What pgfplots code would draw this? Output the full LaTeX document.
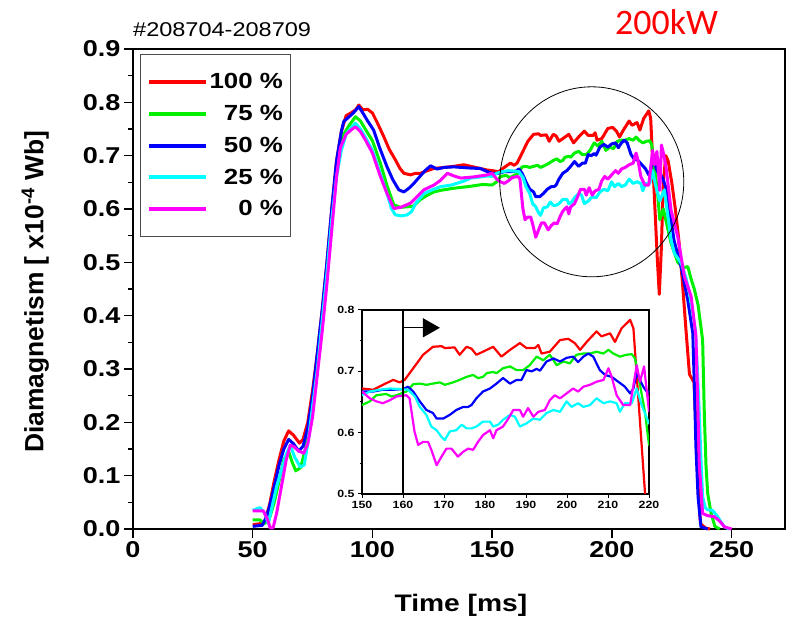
\documentclass[border=0pt]{standalone}
\usepackage{fontspec}
\setmainfont{Liberation Sans}[FakeStretch=1.18]
\newfontfamily\plainsans{Liberation Sans}
\newfontfamily\calfont{Carlito}
\usepackage{pgfplots}
\pgfplotsset{compat=1.18}
\usepackage{pgfplotstable}
\usetikzlibrary{arrows.meta}
\definecolor{cRed}{RGB}{255,0,0}
\definecolor{cGreen}{RGB}{0,240,0}
\definecolor{cBlue}{RGB}{0,0,255}
\definecolor{cCyan}{RGB}{0,255,255}
\definecolor{cMag}{RGB}{255,0,255}

\pgfplotstableread{
x y
50 0.008
53 0.010
55 0.014
57 0.045
59 0.09
61 0.13
63 0.165
65 0.184
67 0.176
69.5 0.161
71 0.168
73 0.20
75 0.26
77 0.33
79 0.41
81 0.50
83 0.60
85 0.69
87 0.745
89 0.775
91 0.780
93 0.786
94.3 0.795
96 0.786
98 0.787
100 0.780
102 0.762
104.7 0.736
107 0.712
109.6 0.692
111.5 0.676
113.1 0.667
115.9 0.664
118 0.667
120.1 0.667
123 0.672
125.7 0.676
130 0.678
134 0.680
138.2 0.683
142 0.679
145 0.676
148 0.673
150 0.672
152.7 0.670
155.1 0.678
157.6 0.686
159.2 0.682
160.4 0.686
162.5 0.705
164.9 0.727
167.3 0.740
169.4 0.741
170.2 0.738
172.6 0.739
173.8 0.727
175.5 0.740
176.7 0.737
177.9 0.727
179.5 0.732
182.0 0.740
184.0 0.724
186.1 0.735
188.5 0.746
190.1 0.738
192.2 0.738
193.0 0.743
193.8 0.729
195.8 0.732
198.3 0.751
200.3 0.753
201.9 0.746
203.2 0.735
204.8 0.748
207.2 0.765
208.4 0.757
210.5 0.762
211.7 0.748
213.3 0.770
215.4 0.784
216.2 0.770
217.4 0.656
219.0 0.504
219.8 0.440
220.6 0.520
221.5 0.650
222.5 0.700
223.5 0.690
225.0 0.650
226.5 0.600
228.0 0.540
229.5 0.460
231.0 0.370
232.4 0.290
234.3 0.275
235.2 0.180
236.0 0.080
237.0 0.010
239.0 0.002
241.0 0.0
}\redtab

\pgfplotstableread{
x y
50 0.017
53 0.017
55 0.010
57 0.020
59 0.050
61 0.090
63 0.130
65 0.145
66.5 0.125
68 0.109
70 0.115
72 0.150
74 0.200
76 0.270
78 0.350
80 0.440
82 0.540
84 0.630
86 0.700
88 0.740
90 0.755
92.9 0.773
95 0.765
97 0.750
100 0.728
103.3 0.686
106 0.645
108.9 0.608
111.7 0.603
114 0.604
117 0.605
120.1 0.618
123 0.626
125.7 0.632
128.5 0.635
134 0.639
140 0.642
146 0.646
150 0.645
151.9 0.651
153.5 0.661
155.9 0.663
157.2 0.659
158.4 0.661
160.8 0.667
162.5 0.679
164.1 0.680
165.7 0.678
167.3 0.680
169.0 0.682
170.2 0.678
172.2 0.682
173.8 0.686
175.5 0.691
177.1 0.694
178.3 0.689
179.5 0.691
180.4 0.697
182.0 0.699
182.8 0.697
184.4 0.705
186.1 0.708
187.7 0.702
189.3 0.702
190.9 0.710
192.6 0.724
194.2 0.718
195.8 0.727
197.5 0.710
199.1 0.716
200.7 0.713
202.3 0.727
204.0 0.729
205.6 0.729
207.2 0.732
208.9 0.729
210.1 0.735
211.3 0.729
212.9 0.724
214.5 0.727
215.8 0.728
216.6 0.721
217.8 0.678
219.0 0.634
220.0 0.580
221.5 0.600
223.0 0.570
224.7 0.536
227.5 0.500
230.0 0.490
231.7 0.492
233.0 0.470
234.4 0.450
236.0 0.420
237.9 0.354
238.6 0.217
239.3 0.120
240.0 0.067
241.4 0.030
243.0 0.005
245.0 0.0
}\greentab

\pgfplotstableread{
x y
50 0.005
54 0.007
56 0.025
58 0.060
61 0.120
63 0.150
65 0.168
67 0.160
69.2 0.146
71 0.155
73 0.190
75 0.250
77 0.330
79 0.410
81 0.500
83 0.600
85 0.690
87 0.745
88 0.764
90 0.772
92 0.780
94.3 0.792
96 0.780
98 0.765
100.5 0.748
103 0.715
106.1 0.679
108.5 0.655
111 0.636
113.1 0.632
115 0.638
117.3 0.648
120 0.662
122 0.672
124.3 0.681
127 0.675
130 0.678
134 0.679
140 0.677
145 0.676
148 0.670
150 0.667
152.7 0.667
155.1 0.670
157.6 0.670
160.0 0.671
161.2 0.675
162.5 0.667
164.1 0.651
165.7 0.637
167.3 0.632
168.2 0.623
169.8 0.623
171.4 0.629
173.0 0.637
174.7 0.642
175.9 0.642
176.7 0.645
177.9 0.656
179.5 0.667
181.2 0.672
182.8 0.680
184.4 0.689
186.1 0.680
187.7 0.686
188.9 0.686
190.1 0.702
191.4 0.700
192.6 0.704
193.4 0.701
195.0 0.716
196.7 0.721
198.3 0.716
199.9 0.722
201.5 0.724
202.7 0.715
204.0 0.724
205.2 0.729
206.4 0.724
208.0 0.702
209.3 0.694
210.9 0.691
212.5 0.683
214.1 0.675
215.4 0.664
216.2 0.672
217.0 0.697
217.8 0.686
218.6 0.675
219.4 0.667
220.0 0.667
221.2 0.658
222.6 0.639
224.0 0.600
226.0 0.540
229.0 0.490
231.7 0.429
233.8 0.367
234.5 0.260
235.1 0.154
236.0 0.060
237.2 0.004
240.0 0.0
}\bluetab

\pgfplotstableread{
x y
50 0.035
53 0.040
55 0.030
56.5 0.010
58 0.040
60 0.080
62 0.110
64 0.140
65.7 0.157
67.5 0.135
69.9 0.116
71.5 0.120
73 0.160
75 0.230
77 0.300
79 0.390
81 0.480
83 0.580
85 0.660
87 0.710
89 0.740
91 0.752
92.9 0.761
95 0.750
97 0.735
100 0.710
103 0.670
106 0.630
108 0.600
109.6 0.589
112 0.587
114.5 0.589
116.3 0.595
118 0.610
121.5 0.629
125 0.636
128.5 0.642
133 0.645
138 0.652
141 0.658
145 0.660
148 0.662
150 0.661
151.9 0.667
154.3 0.670
156.8 0.672
159.2 0.671
161.2 0.670
162.9 0.659
164.1 0.642
165.7 0.629
166.9 0.610
168.2 0.604
169.4 0.593
170.2 0.588
171.4 0.602
173.0 0.604
174.3 0.613
175.5 0.607
176.7 0.607
177.9 0.610
179.5 0.618
181.2 0.618
182.0 0.610
183.2 0.613
184.4 0.621
186.1 0.629
187.3 0.626
188.5 0.610
190.1 0.615
191.8 0.623
193.4 0.621
195.0 0.632
196.7 0.637
198.3 0.634
199.9 0.651
201.1 0.642
202.7 0.648
204.0 0.642
205.6 0.645
207.2 0.656
208.9 0.648
210.5 0.651
212.1 0.648
212.9 0.634
214.1 0.648
215.8 0.648
217.0 0.672
218.2 0.645
220.0 0.615
221.9 0.636
223.0 0.600
224.7 0.542
226.1 0.517
229.0 0.498
231.0 0.470
232.4 0.442
234.9 0.373
235.7 0.300
236.5 0.217
237.2 0.130
237.9 0.061
239.0 0.040
240.0 0.036
242.0 0.035
244.2 0.023
246.0 0.010
247.0 0.004
249.0 0.0
}\cyantab

\pgfplotstableread{
x y
50 0.034
54.4 0.034
56 0.020
57.3 0.002
58.5 0.002
60 0.030
62 0.080
64 0.130
65.7 0.157
67 0.155
69 0.147
71.3 0.142
73 0.160
75 0.210
77 0.290
79 0.370
81 0.460
83 0.560
85 0.660
86.6 0.715
89 0.740
91 0.748
92.9 0.754
95 0.745
97 0.730
100 0.705
103 0.665
106 0.630
108.9 0.601
111.7 0.603
115.9 0.611
118 0.620
121.5 0.636
125.7 0.645
128.5 0.654
131.3 0.667
134 0.662
136.9 0.658
142 0.660
148 0.664
150 0.667
151.9 0.656
153.5 0.651
155.1 0.648
156.8 0.653
158.4 0.659
160.8 0.661
161.6 0.656
162.8 0.602
163.7 0.580
164.9 0.585
166.1 0.585
166.9 0.572
168.2 0.547
169.4 0.561
170.6 0.574
171.8 0.574
173.4 0.561
174.7 0.569
175.9 0.574
177.1 0.572
178.3 0.585
179.5 0.596
181.2 0.604
182.0 0.591
182.8 0.604
184.4 0.610
185.7 0.623
186.9 0.637
188.5 0.637
189.3 0.626
190.5 0.640
191.8 0.626
193.0 0.634
194.6 0.637
195.8 0.653
197.0 0.661
198.3 0.656
199.9 0.664
201.5 0.672
202.7 0.667
204.0 0.675
205.6 0.678
207.2 0.683
208.9 0.686
210.1 0.705
210.9 0.691
212.1 0.661
213.7 0.645
215.4 0.645
217.0 0.710
217.8 0.683
218.8 0.708
220.0 0.635
220.7 0.720
221.5 0.705
222.6 0.679
224.7 0.598
227.5 0.548
230.3 0.473
233.1 0.436
235.1 0.361
235.8 0.250
236.5 0.123
237.9 0.029
240.0 0.025
242.8 0.023
245.0 0.015
247.0 0.004
250.0 0.0
}\magtab

\begin{document}
\begin{tikzpicture}
\useasboundingbox (-133bp,-92bp) rectangle (653bp,529bp);
\begin{axis}[
  at={(0,0)}, anchor=south west,
  scale only axis, width=652bp, height=480bp,
  clip=false,
  xmin=0, xmax=272.3, ymin=0, ymax=0.9,
  xtick={0,50,100,150,200,250},
  ytick={0,0.1,0.2,0.3,0.4,0.5,0.6,0.7,0.8,0.9},
  minor y tick num=1,
  tick align=outside, xtick pos=bottom, ytick pos=left,
  major tick length=9bp, minor tick length=5bp,
  axis line style={line width=1.6bp},
  every tick/.style={line width=1.4bp, black},
  /pgf/number format/assume math mode=true,
  yticklabel style={/pgf/number format/.cd, fixed, fixed zerofill, precision=1},
  tick label style={font=\fontsize{23}{23}\selectfont\bfseries},
  xlabel={Time [ms]},
  xlabel style={at={(axis description cs:0.503,-0.160)}, anchor=center, font=\fontsize{24}{24}\selectfont\bfseries},
  ylabel={\plainsans Diamagnetism [ x10\textsuperscript{-4} Wb]},
  ylabel style={at={(axis description cs:-0.150,0.494)}, anchor=center, font=\fontsize{26.5}{26.5}\selectfont\bfseries},
  legend style={at={(0.0107,0.9896)}, anchor=north west, draw=black!70, line width=1.2bp,
    font=\fontsize{22}{22}\selectfont\bfseries, row sep=11bp, inner xsep=6bp, inner ysep=17bp},
  legend cell align=right,
  legend image code/.code={\draw[#1, line width=4bp] (0bp,0bp) -- (57bp,0bp);},
  every axis plot/.append style={line width=3bp, line join=round},
]
\addplot[cRed] table {\redtab};
\addplot[cGreen] table {\greentab};
\addplot[cBlue] table {\bluetab};
\addplot[cCyan] table {\cyantab};
\addplot[cMag] table {\magtab};
\legend{100 \%, 75 \%, 50 \%, 25 \%, 0 \%}
\draw[line width=0.8bp] (axis cs:191.6,0.651) ellipse [x radius=92bp, y radius=95bp];
\node[anchor=base west, inner sep=0pt, yshift=13bp, font=\fontsize{20}{20}\selectfont] at (rel axis cs:0,1) {\#208704-208709};
\node[anchor=base west, inner sep=0pt, yshift=15bp, xshift=482bp, text=cRed, font=\calfont\fontsize{36}{36}\selectfont] at (rel axis cs:0,1) {200kW};
\end{axis}
\begin{axis}[
  at={(229bp,35bp)}, anchor=south west,
  scale only axis, width=287bp, height=184bp,
  xmin=150, xmax=220, ymin=0.5, ymax=0.8,
  xtick={150,160,170,180,190,200,210,220},
  ytick={0.5,0.6,0.7,0.8},
  minor y tick num=1,
  tick align=outside, xtick pos=bottom, ytick pos=left,
  major tick length=4bp, minor tick length=2bp,
  axis line style={line width=1.2bp},
  every tick/.style={line width=1bp, black},
  axis background/.style={fill=white},
  /pgf/number format/assume math mode=true,
  yticklabel style={/pgf/number format/.cd, fixed, fixed zerofill, precision=1},
  tick label style={font=\fontsize{10.5}{10.5}\selectfont\bfseries},
  every axis plot/.append style={line width=2.2bp, line join=round},
]
\addplot[cRed] table {\redtab};
\addplot[cGreen] table {\greentab};
\addplot[cBlue] table {\bluetab};
\addplot[cCyan] table {\cyantab};
\addplot[cMag] table {\magtab};
\draw[line width=1.5bp] (axis cs:160,0.5) -- (axis cs:160,0.8);
\draw[line width=1.2bp, -{Triangle[length=17bp,width=19bp]}] (axis cs:160,0.771) -- (axis cs:169,0.771);
\end{axis}
\end{tikzpicture}
\end{document}
